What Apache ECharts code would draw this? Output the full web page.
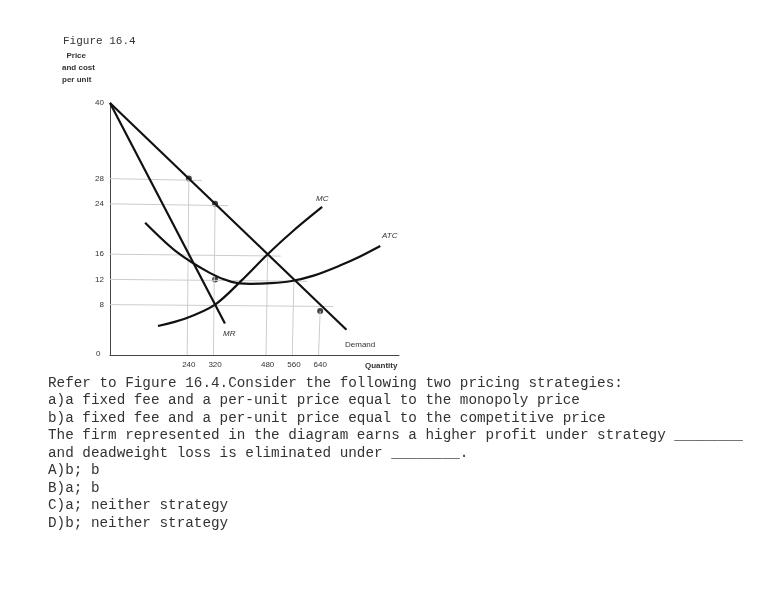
<!DOCTYPE html><html><head><meta charset="utf-8"><script src="https://cdn.jsdelivr.net/npm/echarts@6/dist/echarts.min.js"></script>
<style>body{margin:0;background:#fff}#c{width:782px;height:594px}</style></head><body><div id="c"></div><script>
const demand=[[0,40],[720,4]];
const mr=[[0,40],[350,5]];
const mc=[[146,4.6],[230,5.8],[320,8],[400,11.8],[480,16],[560,19.8],[646,23.5]];
const atc=[[107,21],[200,16.5],[305,13],[370,11.6],[427,11.3],[490,11.4],[549,11.7],[620,12.6],[700,14.2],[760,15.6],[823,17.3]];
const dots=[[240,28],[320,24],[320,12],[640,7]];
const yTicks=[0,8,12,16,24,28,40];
const xTicks=[240,320,480,560,640];
const guides=[[28,240],[24,320],[16,480],[12,560],[8,640]];
const textLines=["Refer to Figure 16.4.Consider the following two pricing strategies:","a)a fixed fee and a per-unit price equal to the monopoly price","b)a fixed fee and a per-unit price equal to the competitive price","The firm represented in the diagram earns a higher profit under strategy ________","and deadweight loss is eliminated under ________.","A)b; b","B)a; b","C)a; neither strategy","D)b; neither strategy"];
const ch=echarts.init(document.getElementById('c'));
const series=[];
guides.forEach(g=>{series.push({type:'line',data:[[0,g[0]],[g[1]+40,g[0]-0.3]],symbol:'none',lineStyle:{color:'#ccc',width:1},silent:true});});
xTicks.forEach((x,i)=>{const top=[28,24,16,12,7][i];series.push({type:'line',data:[[x-5,0],[x,top]],symbol:'none',lineStyle:{color:'#ccc',width:1},silent:true});});
const blk={color:'#111',width:2.2};
series.push({type:'line',data:demand,symbol:'none',lineStyle:blk});
series.push({type:'line',data:mr,symbol:'none',lineStyle:blk});
series.push({type:'line',data:mc,symbol:'none',smooth:0.3,lineStyle:blk});
series.push({type:'line',data:atc,symbol:'none',smooth:0.3,lineStyle:blk});
series.push({type:'scatter',data:dots,symbolSize:6,itemStyle:{color:'#111'}});
const g=[];
g.push({type:'text',left:63,top:36,style:{text:'Figure 16.4',font:'11px "Liberation Mono"',fill:'#333'}});
g.push({type:'text',left:62,top:50,style:{text:'  Price\nand cost\nper unit',font:'bold 8px "Liberation Sans"',fill:'#333',lineHeight:12}});
g.push({type:'text',left:96,top:350,style:{text:'0',font:'8px "Liberation Sans"',fill:'#333'}});
g.push({type:'text',left:365,top:362,style:{text:'Quantity',font:'bold 8px "Liberation Sans"',fill:'#333'}});
g.push({type:'text',left:345,top:341,style:{text:'Demand',font:'8px "Liberation Sans"',fill:'#333'}});
g.push({type:'text',left:223,top:330,style:{text:'MR',font:'italic 8px "Liberation Sans"',fill:'#333'}});
g.push({type:'text',left:316,top:195,style:{text:'MC',font:'italic 8px "Liberation Sans"',fill:'#333'}});
g.push({type:'text',left:382,top:232,style:{text:'ATC',font:'italic 8px "Liberation Sans"',fill:'#333'}});
textLines.forEach((t,i)=>g.push({type:'text',left:48,top:376+i*17.5,style:{text:t,font:'14.3px "Liberation Mono"',fill:'#333'}}));
ch.setOption({animation:false,grid:{left:110,top:103,right:383,bottom:239},
xAxis:{type:'value',min:0,max:880,axisLine:{lineStyle:{color:'#444'}},axisTick:{show:false},splitLine:{show:false},
 axisLabel:{customValues:xTicks,fontSize:8,color:'#333',margin:6}},
yAxis:{type:'value',min:0,max:40,axisLine:{show:true,lineStyle:{color:'#444'}},splitLine:{show:false},axisTick:{show:false},
 axisLabel:{customValues:yTicks.filter(v=>v>0),fontSize:8,color:'#333',margin:6}},
series,graphic:g});
</script></body></html>
